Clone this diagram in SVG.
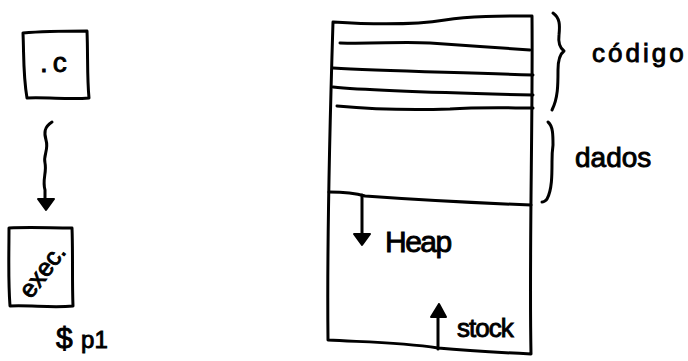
<svg xmlns="http://www.w3.org/2000/svg" width="688" height="361" viewBox="0 0 688 361">
<style>
.ln{fill:none;stroke:#000;stroke-width:3;stroke-linecap:round;stroke-linejoin:round}
.hd{fill:#000;stroke:#000;stroke-width:2;stroke-linejoin:round}
.t{font-family:"Liberation Sans",Arial,sans-serif;fill:#000;stroke:#000;stroke-width:0.9}
</style>
<rect width="688" height="361" fill="#fff"/>
<g id="src-c">
<path class="ln" d="M23,33 C45,31 65,31 87,31 C88,55 87,78 89,98 C70,100 48,97 27,98 C23,75 24,55 23,33 Z"/>
<text class="t" x="40" y="72" font-size="28" letter-spacing="5">.c</text>
</g>
<g id="exec">
<path class="ln" d="M9,228 C30,227 50,228 72,228 C73,255 72,280 73,306 C52,308 30,305 10,306 C8,280 9,255 9,228 Z"/>
<text class="t" x="0" y="0" font-size="25" text-anchor="middle" transform="translate(49,276) rotate(-53)">exec.</text>
</g>
<g id="prompt">
<text class="t" x="56" y="348" font-size="30">$ <tspan font-size="24">p1</tspan></text>
</g>
<g id="memory">
<path class="ln" d="M333,22 C380,25 420,24 445,20 C470,16 500,16 532,16 C533,120 529,250 531,354 C490,352 460,350 438,348 C400,342 360,342 328,340 C327,250 329,150 333,22 Z"/>
<path class="ln" d="M340,43 C380,44 400,41 430,43 C460,45 500,48 530,50"/>
<path class="ln" d="M333,68 C380,71 450,72 533,75"/>
<path class="ln" d="M333,87 C370,91 450,93 533,95"/>
<path class="ln" d="M337,106 C380,110 420,110 450,109 C480,107 510,108 533,108"/>
<path class="ln" d="M329,192 C345,192 355,193 365,196 C420,200 480,203 531,205"/>
<text class="t" x="385" y="252" font-size="30" letter-spacing="-1.5">Heap</text>
<text class="t" x="457" y="337" font-size="26" letter-spacing="-1">stock</text>
</g>
<g id="codigo">
<path class="ln" d="M553,13 C560,18 560,25 559,35 C558,43 560,48 564,51 C560,54 558,60 558,70 C558,85 558,98 552,110"/>
<text class="t" x="592" y="62" font-size="26" letter-spacing="3">código</text>
</g>
<g id="dados">
<path class="ln" d="M548,122 C553,126 553,135 553,145 C552,152 552,158 552,162 C552,175 552,190 547,199 C546,201 543,202 542,202"/>
<text class="t" x="575" y="167" font-size="28">dados</text>
</g>
<g id="connectors">
<path class="ln" d="M52,122 C44,127 44,133 46,140 C49,150 43,155 45,163 C47,172 42,180 45,190 L45,199"/>
<polygon class="hd" points="38,199 54,199 46,210"/>
<path class="ln" d="M362,195 L362,234"/>
<polygon class="hd" points="354,234 370,234 362,245"/>
<path class="ln" d="M438,349 L438,316"/>
<polygon class="hd" points="431,317 446,317 439,304"/>
</g>
</svg>
